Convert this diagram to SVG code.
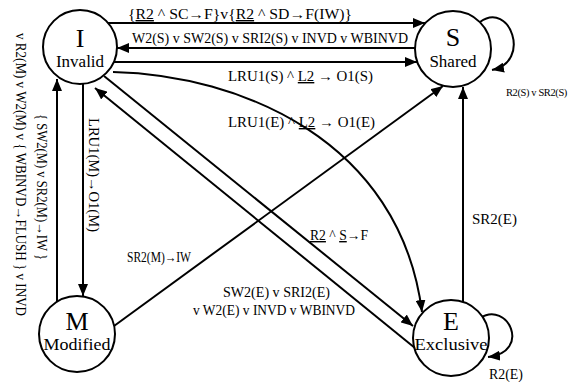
<svg xmlns="http://www.w3.org/2000/svg" width="573" height="382" viewBox="0 0 573 382">
<style>
  text { font-family: "Liberation Serif", "DejaVu Serif", "Times New Roman", serif; fill: #000; }
  .st { fill: #fff; stroke: #000; stroke-width: 2; }
  .big { font-size: 26px; text-anchor: middle; }
  .name { font-size: 17px; text-anchor: middle; }
  .lbl { font-size: 14px; }
  .sm { font-size: 10.5px; letter-spacing: -0.4px; }
  .u { text-decoration: underline; }
  .e { fill: none; stroke: #000; stroke-width: 2; }
</style>
<defs>
  <marker id="ah" viewBox="0 0 12 10" refX="12" refY="5" markerWidth="12" markerHeight="10" orient="auto" markerUnits="userSpaceOnUse">
    <path d="M0,0 L12,5 L0,10 z" fill="#000"/>
  </marker>
</defs>
<rect width="573" height="382" fill="#fff"/>
<g id="connectors">
  <path class="e" d="M107,23 L425,23" marker-end="url(#ah)"/>
  <path class="e" d="M415,48 L117,48" marker-end="url(#ah)"/>
  <path class="e" d="M114,62 L417,62" marker-end="url(#ah)"/>
  <path class="e" d="M113,72 C240,75 400,140 422,312" marker-end="url(#ah)"/>
  <path class="e" d="M104,76 L413,326" marker-end="url(#ah)"/>
  <path class="e" d="M415,348 L95,88" marker-end="url(#ah)"/>
  <path class="e" d="M57,302 L57,79" marker-end="url(#ah)"/>
  <path class="e" d="M83,84 L83,296" marker-end="url(#ah)"/>
  <path class="e" d="M114,326 L443,86" marker-end="url(#ah)"/>
  <path class="e" d="M463,302 L463,87" marker-end="url(#ah)"/>
  <path class="e" d="M480,22 C510,0 532,62 492,70" marker-end="url(#ah)"/>
  <path class="e" d="M480,318 C508,300 532,352 488,357" marker-end="url(#ah)"/>
</g>
<g id="labels">
  <text class="lbl" x="128" y="19" textLength="224" lengthAdjust="spacingAndGlyphs">{<tspan class="u">R2</tspan> ^ SC→F}v{<tspan class="u">R2</tspan> ^ SD→F(IW)}</text>
  <text class="lbl" x="132" y="43" textLength="276" lengthAdjust="spacingAndGlyphs">W2(S) v SW2(S) v SRI2(S) v INVD v WBINVD</text>
  <text class="lbl" x="228" y="81" textLength="145" lengthAdjust="spacingAndGlyphs">LRU1(S) ^ <tspan class="u">L2</tspan> → O1(S)</text>
  <text class="lbl" x="228" y="127" textLength="147" lengthAdjust="spacingAndGlyphs">LRU1(E) ^ <tspan class="u">L2</tspan> → O1(E)</text>
  <text class="lbl" x="127" y="262" textLength="64" lengthAdjust="spacingAndGlyphs">SR2(M)→IW</text>
  <text class="lbl" x="310" y="240" textLength="58" lengthAdjust="spacingAndGlyphs"><tspan class="u">R2</tspan> ^ <tspan class="u">S</tspan>→F</text>
  <text class="lbl" x="223" y="297" textLength="107" lengthAdjust="spacingAndGlyphs">SW2(E) v SRI2(E)</text>
  <text class="lbl" x="193" y="315" textLength="162" lengthAdjust="spacingAndGlyphs">v W2(E) v INVD v WBINVD</text>
  <text class="lbl" x="472" y="224" textLength="45" lengthAdjust="spacingAndGlyphs">SR2(E)</text>
  <text class="lbl" x="489" y="379" textLength="34" lengthAdjust="spacingAndGlyphs">R2(E)</text>
  <text class="sm" x="506" y="96">R2(S) v SR2(S)</text>
  <text class="lbl" transform="translate(89,118) rotate(90)" textLength="114" lengthAdjust="spacingAndGlyphs">LRU1(M)→O1(M)</text>
  <text class="lbl" transform="translate(37,114) rotate(90)" textLength="146" lengthAdjust="spacingAndGlyphs">{ SW2(M) v SR2(M)→IW }</text>
  <text class="lbl" transform="translate(16,33) rotate(90)" textLength="283" lengthAdjust="spacingAndGlyphs">v R2(M) v W2(M) v { WBINVD→FLUSH } v INVD</text>
</g>
<g id="node-I">
  <circle class="st" cx="80" cy="47" r="37"/>
  <text class="big" x="80" y="47">I</text>
  <text class="name" x="80" y="67">Invalid</text>
</g>
<g id="node-S">
  <circle class="st" cx="453" cy="49" r="38"/>
  <text class="big" x="453" y="46">S</text>
  <text class="name" x="453" y="67">Shared</text>
</g>
<g id="node-M">
  <circle class="st" cx="77" cy="334" r="38"/>
  <text class="big" x="77" y="330">M</text>
  <text class="name" x="77" y="350" textLength="67" lengthAdjust="spacingAndGlyphs">Modified</text>
</g>
<g id="node-E">
  <circle class="st" cx="451" cy="338" r="38"/>
  <text class="big" x="451" y="330">E</text>
  <text class="name" x="451" y="350" textLength="73" lengthAdjust="spacingAndGlyphs">Exclusive</text>
</g>
</svg>
